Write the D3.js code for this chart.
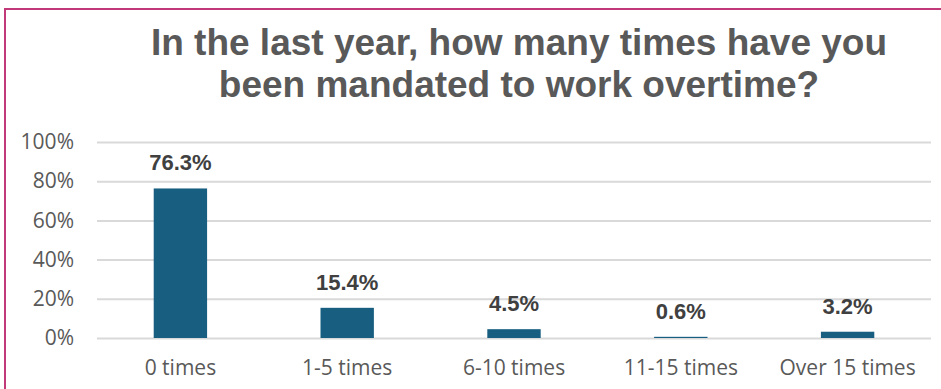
<!DOCTYPE html>
<html>
<head>
<meta charset="utf-8">
<script src="https://cdn.jsdelivr.net/npm/d3@7"></script>
<style>
  html, body { margin: 0; padding: 0; background: #fff; }
  svg { display: block; }
</style>
</head>
<body>
<svg id="chart" width="941" height="389"></svg>
<script>
// Survey responses: share of respondents by number of mandated overtime shifts
const categories = ["0 times", "1-5 times", "6-10 times", "11-15 times", "Over 15 times"];
const shares = [76.3, 15.4, 4.5, 0.6, 3.2];
const yTicks = [0, 20, 40, 60, 80, 100];
const titleLines = ["In the last year, how many times have you", "been mandated to work overtime?"];

const svg = d3.select("#chart");
const W = 941, H = 389;
const plot = { left: 97, right: 931, top: 142, bottom: 338 };

// frame around the chart area
svg.append("rect")
  .attr("x", 5).attr("y", 9)
  .attr("width", W + 20).attr("height", H + 20)
  .attr("fill", "none")
  .attr("stroke", "#c2397a")
  .attr("stroke-width", 2);

// title
const title = svg.append("text")
  .attr("text-anchor", "middle")
  .attr("font-family", "Liberation Sans, Arial, sans-serif")
  .attr("font-weight", "bold")
  .attr("font-size", 37)
  .attr("fill", "#595959");
titleLines.forEach((line, i) => {
  title.append("tspan")
    .attr("x", 519)
    .attr("y", 55 + i * 42)
    .text(line);
});

const x = d3.scaleBand()
  .domain(categories)
  .range([plot.left, plot.right])
  .paddingInner(0.68)
  .paddingOuter(0.34);

const y = d3.scaleLinear()
  .domain([0, 100])
  .range([plot.bottom, plot.top]);

// horizontal gridlines + percentage labels
const yAxis = d3.axisLeft(y)
  .tickValues(yTicks)
  .tickSize(-(plot.right - plot.left))
  .tickPadding(23)
  .tickFormat(d => d + "%");

const gy = svg.append("g")
  .attr("transform", `translate(${plot.left},0)`)
  .call(yAxis);
gy.select(".domain").remove();
gy.selectAll(".tick line")
  .attr("stroke", "#d9d9d9")
  .attr("stroke-width", 2);
gy.selectAll(".tick text")
  .attr("font-family", "Open Sans, sans-serif")
  .attr("font-size", 21)
  .attr("fill", "#595959");

// category labels along the bottom
const xAxis = d3.axisBottom(x).tickSize(0).tickPadding(22);
const gx = svg.append("g")
  .attr("transform", `translate(0,${plot.bottom})`)
  .call(xAxis);
gx.select(".domain").remove();
gx.selectAll(".tick text")
  .attr("font-family", "Open Sans, sans-serif")
  .attr("font-size", 21)
  .attr("fill", "#595959");

const data = categories.map((c, i) => ({ category: c, value: shares[i] }));

// bars
svg.append("g").selectAll("rect")
  .data(data)
  .join("rect")
  .attr("x", d => x(d.category))
  .attr("width", x.bandwidth())
  .attr("y", d => y(d.value))
  .attr("height", d => y(0) - y(d.value))
  .attr("fill", "#175e80");

// value labels above bars
svg.append("g").selectAll("text")
  .data(data)
  .join("text")
  .attr("x", d => x(d.category) + x.bandwidth() / 2)
  .attr("y", d => y(d.value) - 18)
  .attr("text-anchor", "middle")
  .attr("font-family", "Liberation Sans, Arial, sans-serif")
  .attr("font-weight", "bold")
  .attr("font-size", 22)
  .attr("fill", "#404040")
  .text(d => d.value.toFixed(1) + "%");
</script>
</body>
</html>
